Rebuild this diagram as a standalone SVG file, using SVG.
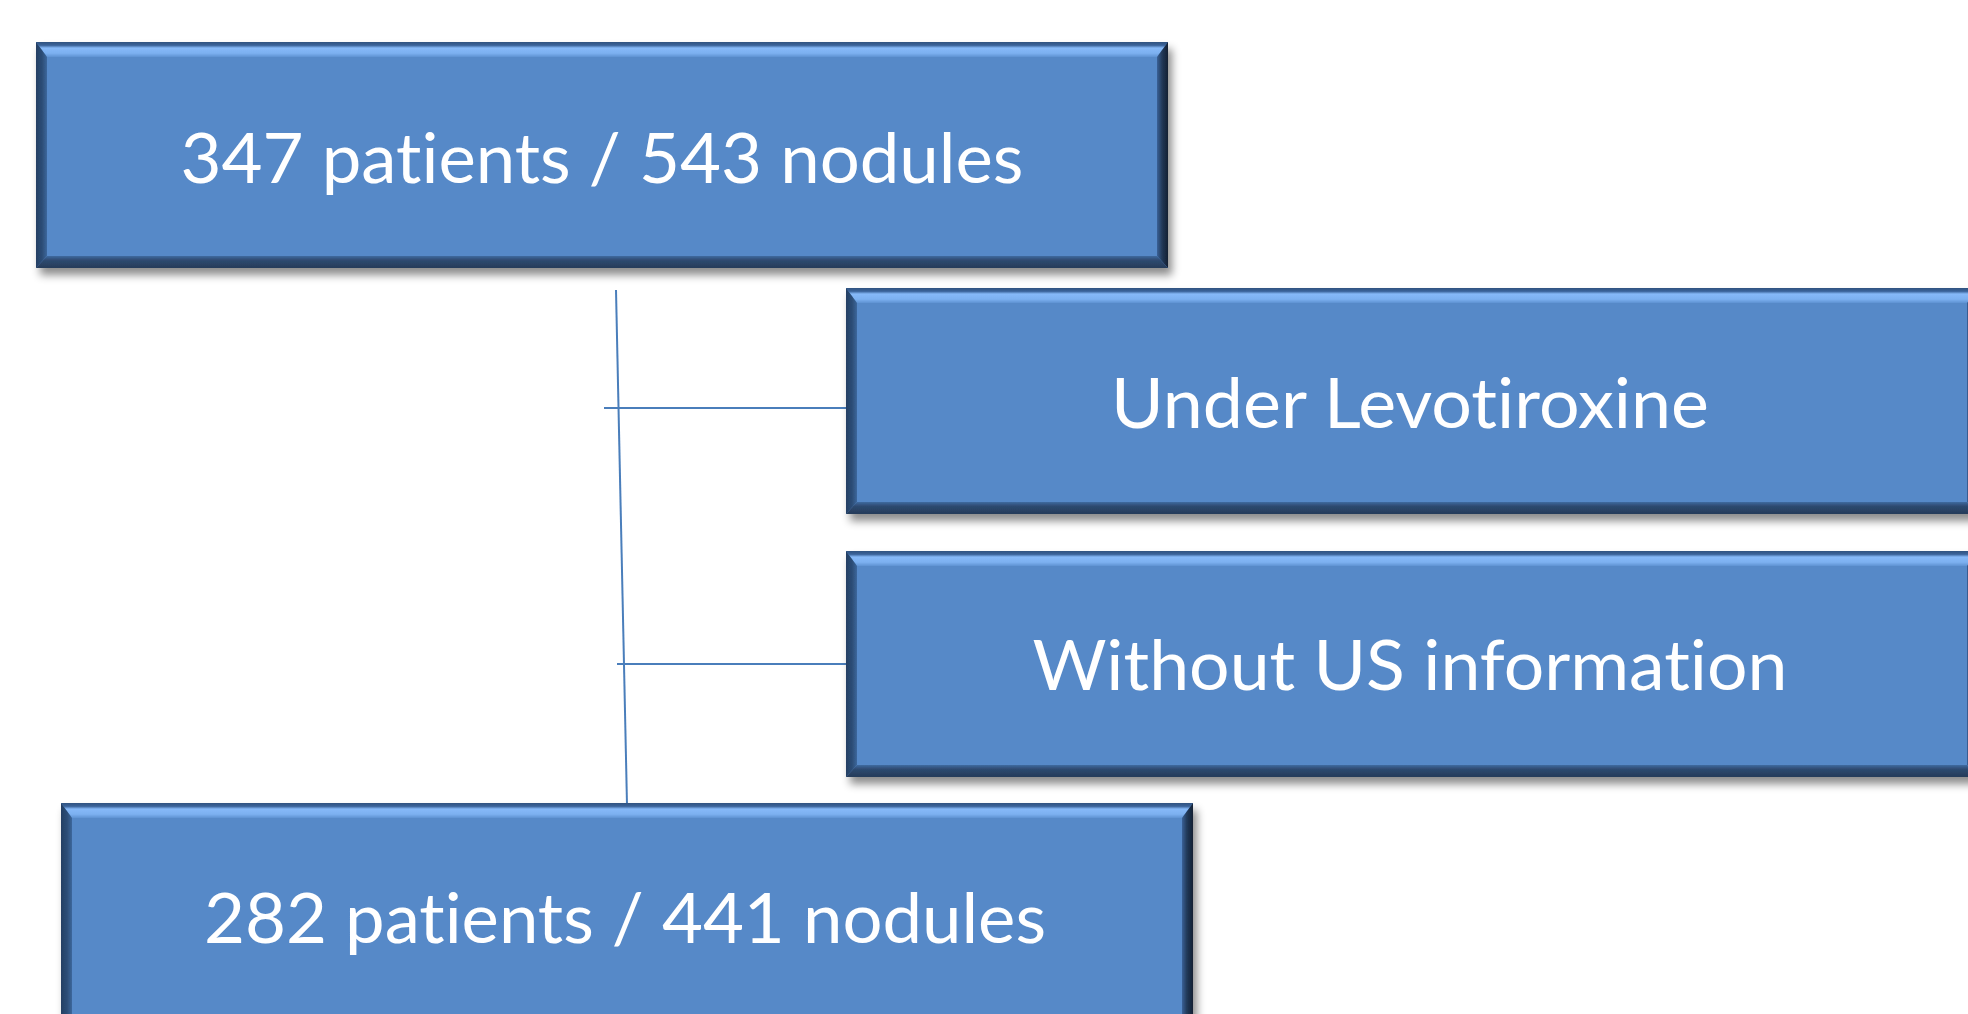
<svg xmlns="http://www.w3.org/2000/svg" xmlns:xlink="http://www.w3.org/1999/xlink" width="1968" height="1014" viewBox="0 0 1968 1014">
  <style>
    .lbl { font-family: Lato, "Open Sans", "Liberation Sans", sans-serif; font-size: 69px; fill: #ffffff; text-anchor: middle; font-variant-ligatures: none; font-feature-settings: "liga" 0, "clig" 0; }
    .conn { stroke: #4A7EBB; stroke-width: 2; fill: none; }
  </style>
  <defs>
    <linearGradient id="gTop" x1="0" y1="0" x2="0" y2="1">
      <stop offset="0" stop-color="#2F5380"/>
      <stop offset="0.22" stop-color="#3A639A"/>
      <stop offset="0.4" stop-color="#86B9F8"/>
      <stop offset="0.75" stop-color="#7CB0F0"/>
      <stop offset="1" stop-color="#5E92D2"/>
    </linearGradient>
    <linearGradient id="gLeft" x1="0" y1="0" x2="1" y2="0">
      <stop offset="0" stop-color="#243F63"/>
      <stop offset="0.6" stop-color="#2D4F79"/>
      <stop offset="1" stop-color="#3C679C"/>
    </linearGradient>
    <linearGradient id="gRight" x1="0" y1="0" x2="1" y2="0">
      <stop offset="0" stop-color="#3A6197"/>
      <stop offset="0.45" stop-color="#223958"/>
      <stop offset="1" stop-color="#131F33"/>
    </linearGradient>
    <linearGradient id="gBot" x1="0" y1="0" x2="0" y2="1">
      <stop offset="0" stop-color="#3F6AA0"/>
      <stop offset="0.35" stop-color="#2D4A70"/>
      <stop offset="1" stop-color="#263B59"/>
    </linearGradient>
    <filter id="shadow" x="-5%" y="-10%" width="115%" height="130%">
      <feDropShadow dx="4" dy="7" stdDeviation="4" flood-color="#000000" flood-opacity="0.45"/>
    </filter>
    <g id="bevelBox">
      <rect x="0" y="0" width="1132" height="226" fill="#5689C8"/>
      <polygon points="0,0 1132,0 1121,15 11,15" fill="url(#gTop)"/>
      <polygon points="0,0 11,15 11,214 0,226" fill="url(#gLeft)"/>
      <polygon points="1132,0 1132,226 1121,214 1121,15" fill="url(#gRight)"/>
      <polygon points="0,226 11,214 1121,214 1132,226" fill="url(#gBot)"/>
    </g>
  </defs>
  <rect width="1968" height="1014" fill="#ffffff"/>

  <g id="connectors">
    <line class="conn" x1="616" y1="290" x2="627" y2="805"/>
    <line class="conn" x1="604" y1="408" x2="846" y2="408"/>
    <line class="conn" x1="617" y1="664" x2="846" y2="664"/>
  </g>

  <g id="node-total">
    <use xlink:href="#bevelBox" x="36" y="42" filter="url(#shadow)"/>
    <text class="lbl" x="602" y="183" textLength="843" lengthAdjust="spacingAndGlyphs">347 patients / 543 nodules</text>
  </g>

  <g id="node-levotiroxine">
    <use xlink:href="#bevelBox" x="846" y="288" filter="url(#shadow)"/>
    <text class="lbl" x="1410" y="428" textLength="598" lengthAdjust="spacingAndGlyphs">Under Levotiroxine</text>
  </g>

  <g id="node-without-us">
    <use xlink:href="#bevelBox" x="846" y="551" filter="url(#shadow)"/>
    <text class="lbl" x="1410" y="690" textLength="755" lengthAdjust="spacingAndGlyphs">Without US information</text>
  </g>

  <g id="node-final">
    <use xlink:href="#bevelBox" x="61" y="803" filter="url(#shadow)"/>
    <text class="lbl" x="625" y="943" textLength="842" lengthAdjust="spacingAndGlyphs">282 patients / 441 nodules</text>
  </g>
</svg>
